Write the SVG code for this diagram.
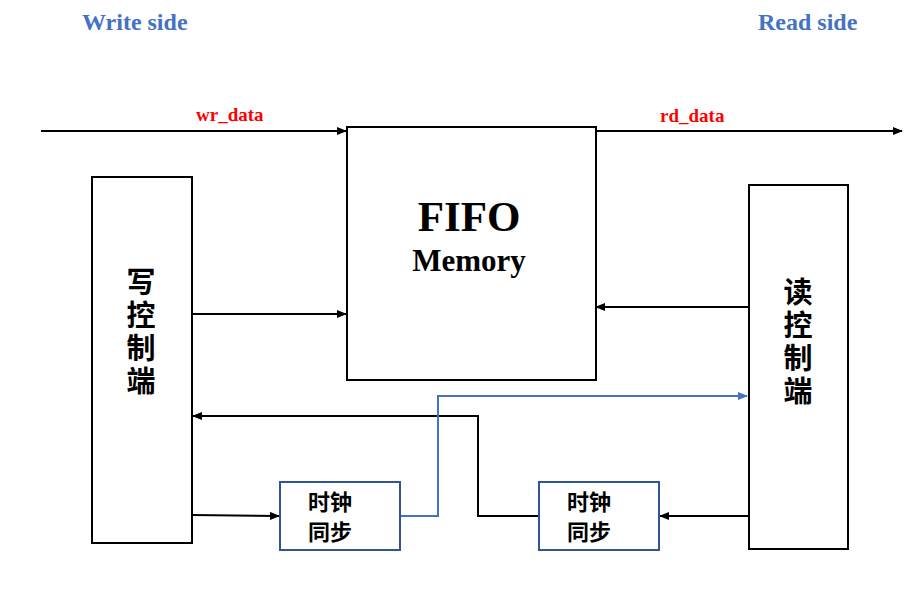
<svg xmlns="http://www.w3.org/2000/svg" width="913" height="605" viewBox="0 0 913 605">
<style>
.b{fill:#fff;stroke:#000;stroke-width:2}
.s{fill:#fff;stroke:#2f5597;stroke-width:2}
.l{fill:none;stroke:#000;stroke-width:2}
.hd{font-family:"Liberation Serif",serif;font-weight:bold;font-size:24px;fill:#4472c4}
.red{font-family:"Liberation Serif",serif;font-weight:bold;font-size:19px;fill:#ff0000}
.cj{font-family:"Noto Sans CJK SC",sans-serif;font-weight:bold;fill:#000}
</style>
<defs>
<marker id="a" markerWidth="10" markerHeight="8" refX="9" refY="4" orient="auto" markerUnits="userSpaceOnUse"><path d="M0,0 L10,4 L0,8 Z" fill="#000"/></marker>
<marker id="ab" markerWidth="10" markerHeight="8" refX="9" refY="4" orient="auto" markerUnits="userSpaceOnUse"><path d="M0,0 L10,4 L0,8 Z" fill="#4472c4"/></marker>
</defs>
<rect width="913" height="605" fill="#fff"/>
<text class="hd" x="82" y="30">Write side</text>
<text class="hd" x="758" y="30">Read side</text>
<g id="connectors">
<line class="l" x1="41" y1="131" x2="346" y2="131" marker-end="url(#a)"/>
<line class="l" x1="596" y1="131" x2="902" y2="131" marker-end="url(#a)"/>
<line class="l" x1="192" y1="314" x2="346" y2="314" marker-end="url(#a)"/>
<line class="l" x1="749" y1="307" x2="596" y2="307" marker-end="url(#a)"/>
<polyline class="l" points="539,516 478,516 478,416 193,416" marker-end="url(#a)"/>
<line class="l" x1="192" y1="515" x2="279" y2="516" marker-end="url(#a)"/>
<line class="l" x1="749" y1="516" x2="660" y2="516" marker-end="url(#a)"/>
<polyline fill="none" stroke="#4472c4" stroke-width="2" points="400,516 438,516 438,396 747,396" marker-end="url(#ab)"/>
</g>
<text class="red" x="196" y="121">wr_data</text>
<text class="red" x="660" y="122">rd_data</text>
<g id="fifo"><rect class="b" x="347" y="127" width="249" height="253"/>
<text x="469" y="231" text-anchor="middle" font-family="Liberation Serif,serif" font-weight="bold" font-size="43">FIFO</text>
<text x="469" y="271" text-anchor="middle" font-family="Liberation Serif,serif" font-weight="bold" font-size="31">Memory</text></g>
<g id="write"><rect class="b" x="92" y="177" width="100" height="366"/>
<text class="cj" font-size="29" text-anchor="middle"><tspan x="141" y="293">写</tspan><tspan x="141" y="326">控</tspan><tspan x="141" y="359">制</tspan><tspan x="141" y="392">端</tspan></text></g>
<g id="read"><rect class="b" x="749" y="185" width="99" height="364"/>
<text class="cj" font-size="29" text-anchor="middle"><tspan x="798" y="303">读</tspan><tspan x="798" y="336">控</tspan><tspan x="798" y="369">制</tspan><tspan x="798" y="402">端</tspan></text></g>
<g id="sync1"><rect class="s" x="280" y="482" width="120" height="68"/>
<text class="cj" font-size="22"><tspan x="308" y="510">时钟</tspan><tspan x="308" y="540">同步</tspan></text></g>
<g id="sync2"><rect class="s" x="539" y="482" width="120" height="68"/>
<text class="cj" font-size="22"><tspan x="567" y="510">时钟</tspan><tspan x="567" y="540">同步</tspan></text></g>
</svg>
